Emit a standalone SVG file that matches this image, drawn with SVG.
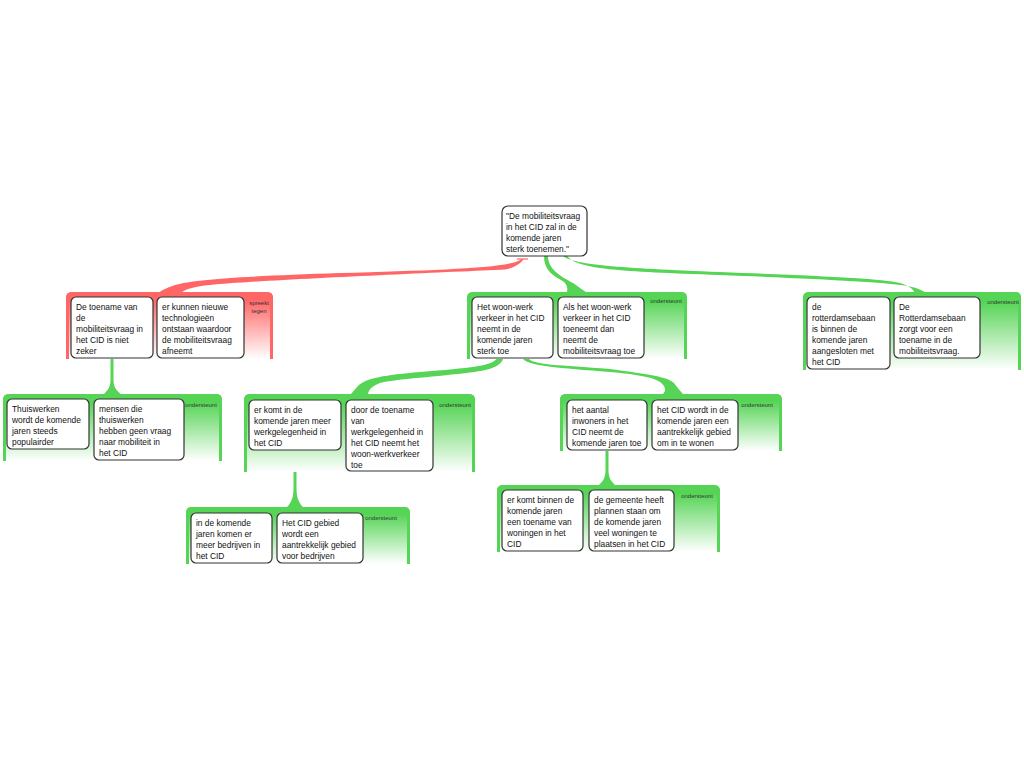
<svg xmlns="http://www.w3.org/2000/svg" width="1024" height="768" viewBox="0 0 1024 768">
<style>
.t{font-family:"Liberation Sans",Arial,sans-serif;font-size:8.4px;fill:#111}
.lbl{font-family:"Liberation Sans",Arial,sans-serif;font-size:6px;fill:#333;text-anchor:middle}
.card{fill:#fff;stroke:#333;stroke-width:1.2}
.gfill{fill:url(#gg)}
.rfill{fill:url(#rg)}
.gbd{fill:none;stroke:#55d455;stroke-width:3}
.rbd{fill:none;stroke:#ff6666;stroke-width:3}
.gc{fill:#55d455}
.rc{fill:#ff6666}
</style>
<defs>
<linearGradient id="gg" x1="0" y1="0" x2="0" y2="1">
<stop offset="0" stop-color="#55d455"/>
<stop offset="0.12" stop-color="#55d455"/>
<stop offset="1" stop-color="#ffffff"/>
</linearGradient>
<linearGradient id="rg" x1="0" y1="0" x2="0" y2="1">
<stop offset="0" stop-color="#ff6666"/>
<stop offset="0.12" stop-color="#ff6666"/>
<stop offset="1" stop-color="#ffffff"/>
</linearGradient>
</defs>
<rect width="1024" height="768" fill="#fff"/>

<g id="connectors">
<line x1="517" y1="259" x2="528" y2="259" stroke="#ff6666" stroke-width="1.2"/>
<path class="rc" d="M521.5,259 C513,268 440,270 340,273 C250,276 195,279 175,285 C166,288 160,291 157,294 L180,294 C184,289 195,286.5 210,285 C260,280 440,272.5 505,269.5 C515,267.5 521,263.5 523.5,259 Z"/>
<path class="gc" d="M544,256 C544,268 550,274 561,280 C567,283 569,289 566,294 L589,294 C584,291 579,287 573,283 C560,276 548,269 548,256 Z"/>
<path class="gc" d="M562,255 C571,265 620,268 720,272 C820,276 880,278 900,283 C910,286 915,290 914,294 L928,294 C922,290 915,287 905,285.5 C880,282 820,279 720,275 C620,271.5 575,269.5 566.5,255 Z"/>
<path class="gc" d="M497,358 C493,366 470,368 420,372 C385,375 366,378 358,386 C355,389 353,392 350,395 L368,395 C368,390 372,386 380,383 C395,379 440,376.5 470,372.5 C495,369.5 501,365 503.5,358 Z"/>
<path class="gc" d="M522.5,358 C526,366 560,368 610,372 C645,375 660,379 664,386 C666,390 665,392 662,395 L684,395 C680,391 677,387 674,383 C668,377 650,374.5 610,369 C560,365 531,365 528.5,358 Z"/>
<path class="gc" d="M110.5,359 L110.5,380 C110.5,388 107,391 103,395 L122,395 C117,391 113.5,388 113.5,380 L113.5,359 Z"/>
<path class="gc" d="M293.5,449 L293.5,488 C293.5,500 290,504 286,508 L304,508 C300,504 296.5,500 296.5,488 L296.5,449 Z"/>
<path class="gc" d="M605.5,449 L605.5,470 C605.5,479 602,482 598,486 L616,486 C612,482 608.5,479 608.5,470 L608.5,449 Z"/>
</g>

<g id="n0">
<rect class="card" x="502" y="206" width="85" height="50" rx="6"/>
<text class="t" x="506" y="218.5">"De mobiliteitsvraag</text>
<text class="t" x="506" y="229.5">in het CID zal in de</text>
<text class="t" x="506" y="240.5">komende jaren</text>
<text class="t" x="506" y="251.5">sterk toenemen."</text>
</g>

<g id="g-red">
<path class="rfill" d="M66,359 V298 Q66,292 72,292 H267 Q273,292 273,298 V359 Z"/>
<path class="rbd" d="M67.5,359 V298 Q67.5,293.5 72,293.5 H267 Q271.5,293.5 271.5,298 V359"/>
<text class="lbl" x="259" y="305">spreekt</text>
<text class="lbl" x="259" y="313">tegen</text>
<g id="n1">
<rect class="card" x="71" y="297" width="82" height="61" rx="5"/>
<text class="t" x="76" y="309.5">De toename van</text>
<text class="t" x="76" y="320.5">de</text>
<text class="t" x="76" y="331.5">mobiliteitsvraag in</text>
<text class="t" x="76" y="342.5">het CID is niet</text>
<text class="t" x="76" y="353.5">zeker</text>
</g>
<g id="n2">
<rect class="card" x="157" y="297" width="87" height="61" rx="5"/>
<text class="t" x="162" y="309.5">er kunnen nieuwe</text>
<text class="t" x="162" y="320.5">technologieën</text>
<text class="t" x="162" y="331.5">ontstaan waardoor</text>
<text class="t" x="162" y="342.5">de mobiliteitsvraag</text>
<text class="t" x="162" y="353.5">afneemt</text>
</g>
</g>

<g id="g-mid">
<path class="gfill" d="M467,359 V298 Q467,292 473,292 H681 Q687,292 687,298 V359 Z"/>
<path class="gbd" d="M468.5,359 V298 Q468.5,293.5 473,293.5 H681 Q685.5,293.5 685.5,298 V359"/>
<text class="lbl" x="666" y="303">ondersteunt</text>
<g id="n3">
<rect class="card" x="472" y="297" width="81" height="61" rx="5"/>
<text class="t" x="477" y="309.5">Het woon-werk</text>
<text class="t" x="477" y="320.5">verkeer in het CID</text>
<text class="t" x="477" y="331.5">neemt in de</text>
<text class="t" x="477" y="342.5">komende jaren</text>
<text class="t" x="477" y="353.5">sterk toe</text>
</g>
<g id="n4">
<rect class="card" x="558" y="297" width="86" height="61" rx="5"/>
<text class="t" x="563" y="309.5">Als het woon-werk</text>
<text class="t" x="563" y="320.5">verkeer in het CID</text>
<text class="t" x="563" y="331.5">toeneemt dan</text>
<text class="t" x="563" y="342.5">neemt de</text>
<text class="t" x="563" y="353.5">mobiliteitsvraag toe</text>
</g>
</g>

<g id="g-right">
<path class="gfill" d="M803,370 V298 Q803,292 809,292 H1015 Q1021,292 1021,298 V370 Z"/>
<path class="gbd" d="M804.5,370 V298 Q804.5,293.5 809,293.5 H1015 Q1019.5,293.5 1019.5,298 V370"/>
<text class="lbl" x="1003" y="304">ondersteunt</text>
<g id="n5">
<rect class="card" x="807" y="297" width="83" height="72" rx="5"/>
<text class="t" x="812" y="309.5">de</text>
<text class="t" x="812" y="320.5">rotterdamsebaan</text>
<text class="t" x="812" y="331.5">is binnen de</text>
<text class="t" x="812" y="342.5">komende jaren</text>
<text class="t" x="812" y="353.5">aangesloten met</text>
<text class="t" x="812" y="364.5">het CID</text>
</g>
<g id="n6">
<rect class="card" x="894" y="297" width="86" height="61" rx="5"/>
<text class="t" x="899" y="309.5">De</text>
<text class="t" x="899" y="320.5">Rotterdamsebaan</text>
<text class="t" x="899" y="331.5">zorgt voor een</text>
<text class="t" x="899" y="342.5">toename in de</text>
<text class="t" x="899" y="353.5">mobiliteitsvraag.</text>
</g>
</g>

<g id="g-l2a">
<path class="gfill" d="M3,461 V400 Q3,394 9,394 H216 Q222,394 222,400 V461 Z"/>
<path class="gbd" d="M4.5,461 V400 Q4.5,395.5 9,395.5 H216 Q220.5,395.5 220.5,400 V461"/>
<text class="lbl" x="201" y="406.5">ondersteunt</text>
<g id="n7">
<rect class="card" x="7" y="399" width="82" height="50" rx="5"/>
<text class="t" x="12" y="411.5">Thuiswerken</text>
<text class="t" x="12" y="422.5">wordt de komende</text>
<text class="t" x="12" y="433.5">jaren steeds</text>
<text class="t" x="12" y="444.5">populairder</text>
</g>
<g id="n8">
<rect class="card" x="94" y="399" width="90" height="61" rx="5"/>
<text class="t" x="99" y="411.5">mensen die</text>
<text class="t" x="99" y="422.5">thuiswerken</text>
<text class="t" x="99" y="433.5">hebben geen vraag</text>
<text class="t" x="99" y="444.5">naar mobiliteit in</text>
<text class="t" x="99" y="455.5">het CID</text>
</g>
</g>

<g id="g-l2b">
<path class="gfill" d="M244,472 V400 Q244,394 250,394 H469 Q475,394 475,400 V472 Z"/>
<path class="gbd" d="M245.5,472 V400 Q245.5,395.5 250,395.5 H469 Q473.5,395.5 473.5,400 V472"/>
<text class="lbl" x="455" y="407">ondersteunt</text>
<g id="n9">
<rect class="card" x="249" y="400" width="92" height="50" rx="5"/>
<text class="t" x="254" y="412.5">er komt in de</text>
<text class="t" x="254" y="423.5">komende jaren meer</text>
<text class="t" x="254" y="434.5">werkgelegenheid in</text>
<text class="t" x="254" y="445.5">het CID</text>
</g>
<g id="n10">
<rect class="card" x="346" y="400" width="87" height="71" rx="5"/>
<text class="t" x="351" y="412.5">door de toename</text>
<text class="t" x="351" y="423.5">van</text>
<text class="t" x="351" y="434.5">werkgelegenheid in</text>
<text class="t" x="351" y="445.5">het CID neemt het</text>
<text class="t" x="351" y="456.5">woon-werkverkeer</text>
<text class="t" x="351" y="467.5">toe</text>
</g>
</g>

<g id="g-l2c">
<path class="gfill" d="M560,451 V400 Q560,394 566,394 H776 Q782,394 782,400 V451 Z"/>
<path class="gbd" d="M561.5,451 V400 Q561.5,395.5 566,395.5 H776 Q780.5,395.5 780.5,400 V451"/>
<text class="lbl" x="757" y="407">ondersteunt</text>
<g id="n11">
<rect class="card" x="567" y="400" width="80" height="50" rx="5"/>
<text class="t" x="572" y="412.5">het aantal</text>
<text class="t" x="572" y="423.5">inwoners in het</text>
<text class="t" x="572" y="434.5">CID neemt de</text>
<text class="t" x="572" y="445.5">komende jaren toe</text>
</g>
<g id="n12">
<rect class="card" x="652" y="400" width="86" height="50" rx="5"/>
<text class="t" x="657" y="412.5">het CID wordt in de</text>
<text class="t" x="657" y="423.5">komende jaren een</text>
<text class="t" x="657" y="434.5">aantrekkelijk gebied</text>
<text class="t" x="657" y="445.5">om in te wonen</text>
</g>
</g>

<g id="g-l3a">
<path class="gfill" d="M186,564 V513 Q186,507 192,507 H404 Q410,507 410,513 V564 Z"/>
<path class="gbd" d="M187.5,564 V513 Q187.5,508.5 192,508.5 H404 Q408.5,508.5 408.5,513 V564"/>
<text class="lbl" x="381" y="519.5">ondersteunt</text>
<g id="n13">
<rect class="card" x="191" y="513" width="81" height="50" rx="5"/>
<text class="t" x="196" y="525.5">in de komende</text>
<text class="t" x="196" y="536.5">jaren komen er</text>
<text class="t" x="196" y="547.5">meer bedrijven in</text>
<text class="t" x="196" y="558.5">het CID</text>
</g>
<g id="n14">
<rect class="card" x="277" y="513" width="86" height="50" rx="5"/>
<text class="t" x="282" y="525.5">Het CID gebied</text>
<text class="t" x="282" y="536.5">wordt een</text>
<text class="t" x="282" y="547.5">aantrekkelijk gebied</text>
<text class="t" x="282" y="558.5">voor bedrijven</text>
</g>
</g>

<g id="g-l3b">
<path class="gfill" d="M497,552 V491 Q497,485 503,485 H714 Q720,485 720,491 V552 Z"/>
<path class="gbd" d="M498.5,552 V491 Q498.5,486.5 503,486.5 H714 Q718.5,486.5 718.5,491 V552"/>
<text class="lbl" x="697" y="497.5">ondersteunt</text>
<g id="n15">
<rect class="card" x="502" y="490" width="81" height="61" rx="5"/>
<text class="t" x="507" y="502.5">er komt binnen de</text>
<text class="t" x="507" y="513.5">komende jaren</text>
<text class="t" x="507" y="524.5">een toename van</text>
<text class="t" x="507" y="535.5">woningen in het</text>
<text class="t" x="507" y="546.5">CID</text>
</g>
<g id="n16">
<rect class="card" x="589" y="490" width="85" height="61" rx="5"/>
<text class="t" x="594" y="502.5">de gemeente heeft</text>
<text class="t" x="594" y="513.5">plannen staan om</text>
<text class="t" x="594" y="524.5">de komende jaren</text>
<text class="t" x="594" y="535.5">veel woningen te</text>
<text class="t" x="594" y="546.5">plaatsen in het CID</text>
</g>
</g>
</svg>
